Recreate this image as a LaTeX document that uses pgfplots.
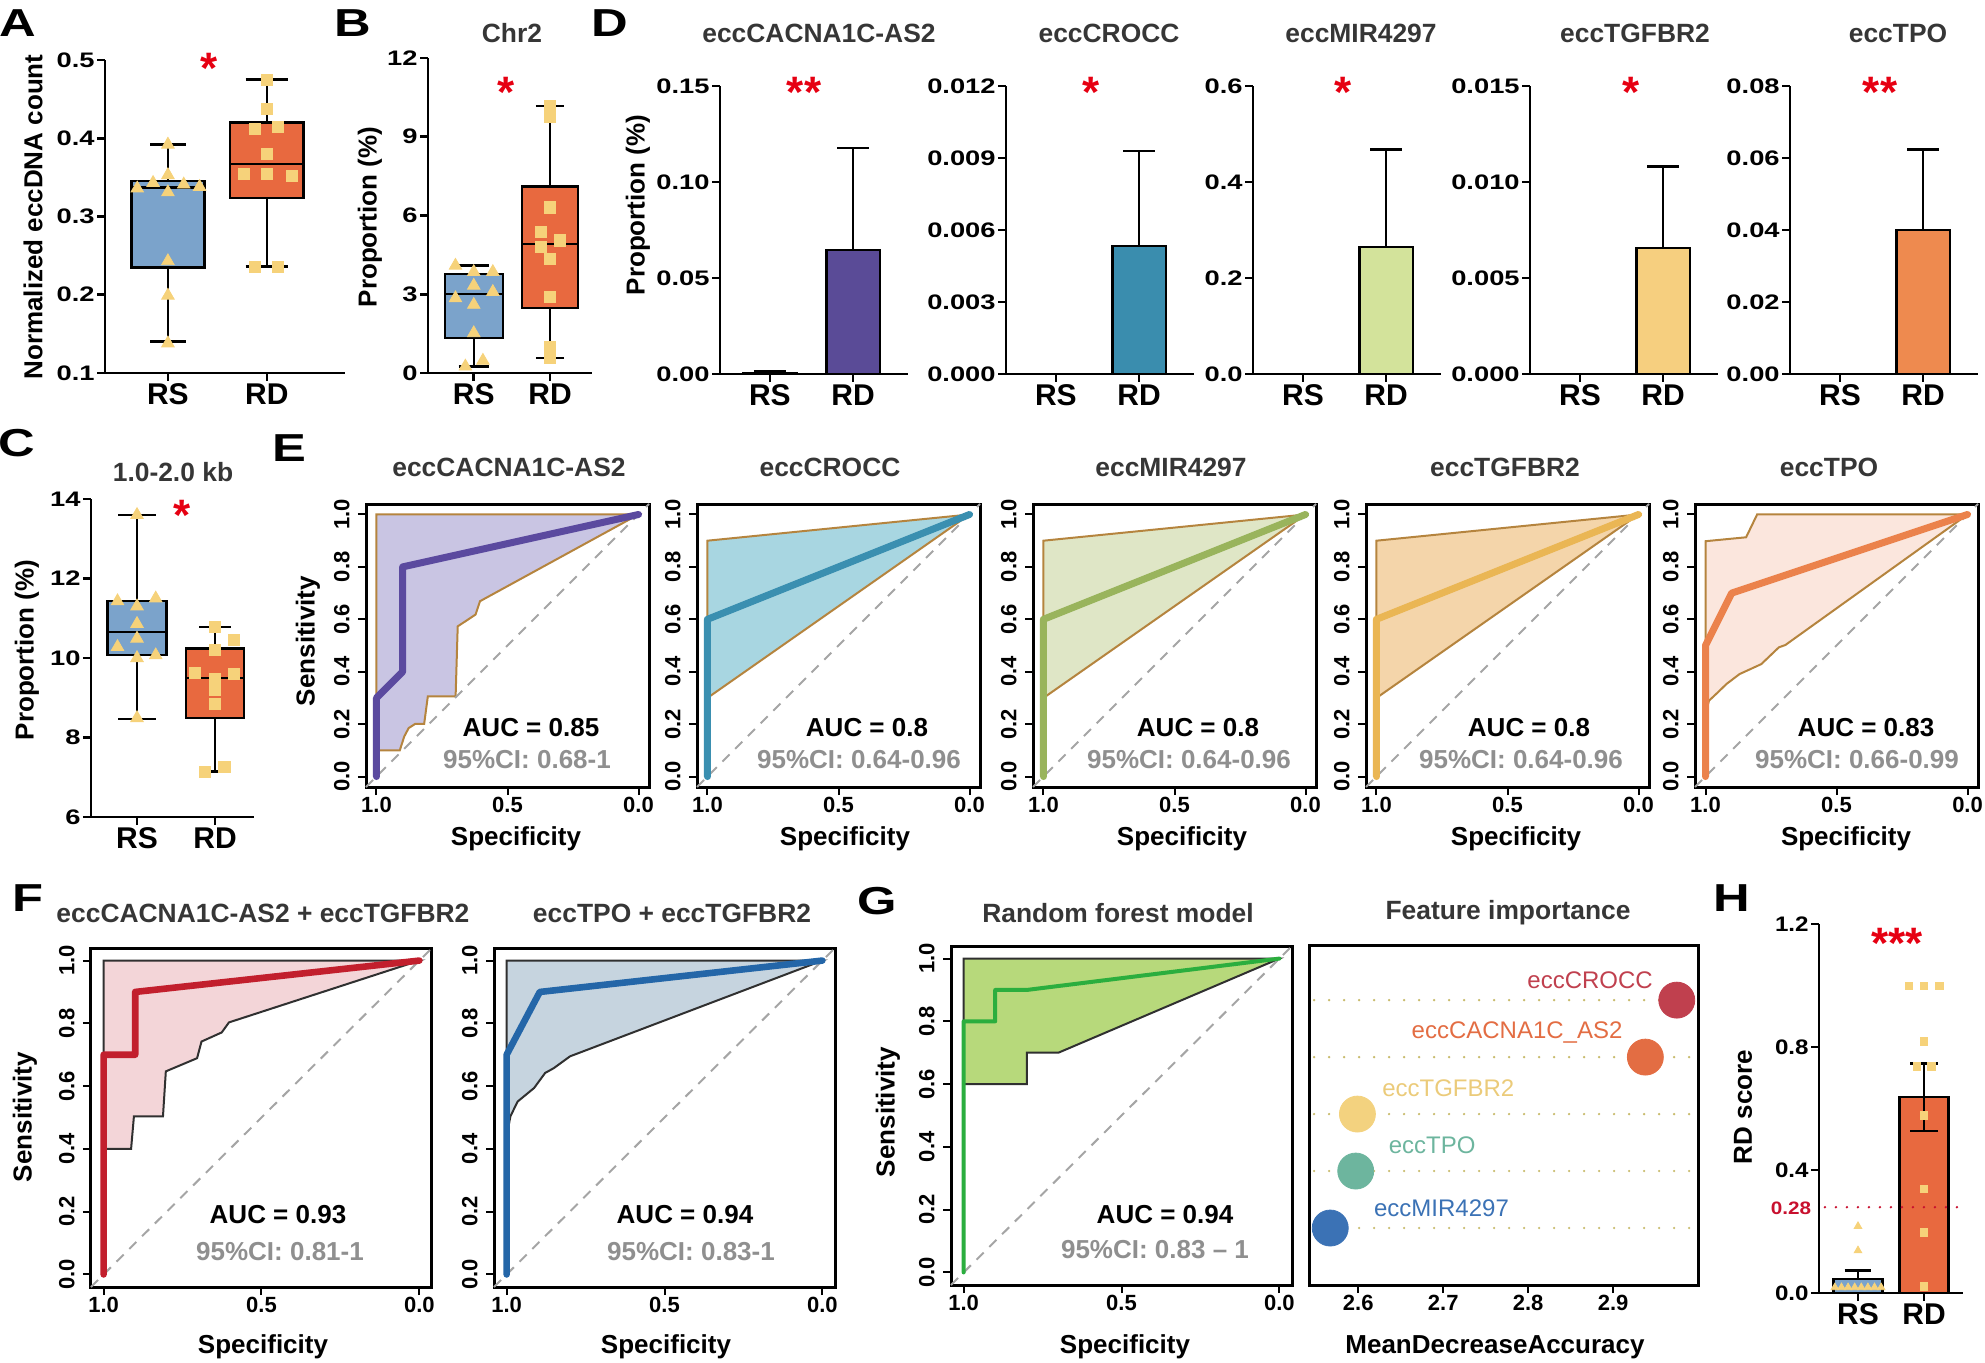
\documentclass[border=0pt]{standalone}
\usepackage{fontspec}
\setmainfont{Liberation Sans}
\newfontfamily\numfont{Liberation Sans}[FakeStretch=1.3]
\newfontfamily\numfontb{Liberation Sans}[FakeStretch=1.15]
\usepackage{pgfplots}
\pgfplotsset{compat=1.18}
\usepgfplotslibrary{statistics}

\definecolor{rsblue}{HTML}{7BA3CB}
\definecolor{rdorange}{HTML}{E8693F}
\definecolor{ptyel}{HTML}{F6D27A}
\definecolor{starred}{HTML}{E60012}
\definecolor{ttlgray}{HTML}{363636}
\definecolor{cigray}{HTML}{8F8F8F}
\definecolor{dA}{HTML}{5A4B97}
\definecolor{dB}{HTML}{3A8DAE}
\definecolor{dC}{HTML}{D3E39B}
\definecolor{dD}{HTML}{F6CF7F}
\definecolor{dE}{HTML}{EE8A4F}
\definecolor{eA}{HTML}{5B4A9F}
\definecolor{eB}{HTML}{3A8FB0}
\definecolor{eC}{HTML}{99B45C}
\definecolor{eD}{HTML}{EAB654}
\definecolor{eE}{HTML}{EB824C}
\definecolor{eAf}{HTML}{C9C5E3}
\definecolor{eBf}{HTML}{A8D6E1}
\definecolor{eCf}{HTML}{DFE6C6}
\definecolor{eDf}{HTML}{F4D5AA}
\definecolor{eEf}{HTML}{FBE6DD}
\definecolor{bandbrown}{HTML}{B5843E}
\definecolor{fA}{HTML}{C21F2D}
\definecolor{fAf}{HTML}{F3D5D8}
\definecolor{fB}{HTML}{2466A8}
\definecolor{fBf}{HTML}{C6D4DF}
\definecolor{darkout}{HTML}{303030}
\definecolor{gG}{HTML}{2BAE3E}
\definecolor{gGf}{HTML}{B7D97B}
\definecolor{cCROCC}{HTML}{C0404E}
\definecolor{cCAC}{HTML}{E36D43}
\definecolor{cTGF}{HTML}{F3D27F}
\definecolor{cTGFt}{HTML}{EBCB7A}
\definecolor{cTPO}{HTML}{6DB59E}
\definecolor{cMIR}{HTML}{3B72B5}
\definecolor{dotol}{HTML}{C9BC6E}
\definecolor{thr}{HTML}{C8102E}
\definecolor{diaggray}{HTML}{A5A5A5}

\newcommand\fsz[1]{\fontsize{#1}{#1}\selectfont}

\pgfplotsset{
 gp/.style={
  scale only axis, clip=false,
  axis lines*=left,
  axis line style={line width=1.3pt},
  tick style={black, line width=1.3pt},
  tick align=outside, major tick length=4pt,
  scaled y ticks=false,
  xtick={1,2}, xticklabels={RS,RD},
  xticklabel style={font=\fsz{15}\bfseries, inner sep=1pt},
  yticklabel style={font=\numfont\fsz{10.5}\bfseries, inner sep=1pt},
 },
 gpbox/.style={draw=black, line width=1.2pt},
 pts/.style={only marks, mark=triangle*, mark size=3.6pt, color=ptyel, mark options={fill=ptyel, draw=none}},
 ptsq/.style={only marks, mark=square*, mark size=2.8pt, color=ptyel, mark options={fill=ptyel, draw=none}},
 gpbar/.style={ybar, bar shift=0pt, draw=black, line width=1.2pt,
   error bars/y dir=plus, error bars/y explicit,
   error bars/error bar style={line width=1.3pt, black},
   error bars/error mark options={rotate=90, mark size=8pt, line width=1.3pt, black}},
 roc/.style={
  scale only axis, clip=false,
  width=141.5pt, height=141.5pt,
  xmin=-0.04, xmax=1.04, ymin=-0.04, ymax=1.04, x dir=reverse,
  axis line style={line width=1.5pt},
  tick style={black, line width=1pt},
  tick align=outside, tick pos=left, major tick length=4pt,
  xtick={0,0.5,1}, xticklabels={0.0,0.5,1.0},
  ytick={0,0.2,0.4,0.6,0.8,1}, yticklabels={0.0,0.2,0.4,0.6,0.8,1.0},
  xticklabel style={font=\fsz{11}\bfseries, inner sep=1pt},
  yticklabel style={font=\fsz{11}\bfseries, rotate=90, anchor=south, inner sep=4pt},
 },
 diag/.style={color=diaggray, line width=1pt, dash pattern=on 5pt off 4pt},
 band/.style={line width=1pt},
}

\begin{document}
\begin{tikzpicture}
\path[use as bounding box] (0pt,0pt) rectangle (992.5pt,-681.5pt);

% ---------- A ----------
\begin{axis}[gp, at={(52.5pt,-186.5pt)}, anchor=south west, width=120pt, height=156.5pt,
  xmin=0.364, xmax=2.79, ymin=0.1, ymax=0.5,
  ytick={0.1,0.2,0.3,0.4,0.5}, yticklabels={0.1,0.2,0.3,0.4,0.5}]
\addplot[gpbox, fill=rsblue, boxplot prepared={draw direction=y, draw position=1, lower whisker=0.140, lower quartile=0.235, median=0.337, upper quartile=0.345, upper whisker=0.392, box extend=0.74, whisker extend=0.36}] coordinates {};
\addplot[gpbox, fill=rdorange, boxplot prepared={draw direction=y, draw position=2, lower whisker=0.236, lower quartile=0.324, median=0.367, upper quartile=0.420, upper whisker=0.475, box extend=0.74, whisker extend=0.43}] coordinates {};
\addplot[pts] coordinates {(1,0.392) (1,0.353) (0.85,0.343) (0.69,0.336) (1.16,0.341) (1.32,0.338) (1,0.331) (1,0.243) (1,0.199) (1,0.138)};
\addplot[ptsq] coordinates {(2,0.475) (2,0.438) (1.88,0.412) (2.11,0.415) (2,0.38) (1.77,0.354) (2,0.354) (2.25,0.352) (1.88,0.236) (2.11,0.236)};
\end{axis}

% ---------- B ----------
\begin{axis}[gp, at={(214pt,-186.5pt)}, anchor=south west, width=82pt, height=157.5pt,
  xmin=0.40, xmax=2.55, ymin=0, ymax=12,
  ytick={0,3,6,9,12}, yticklabels={0,3,6,9,12}]
\addplot[gpbox, fill=rsblue, boxplot prepared={draw direction=y, draw position=1, lower whisker=0.25, lower quartile=1.33, median=3.0, upper quartile=3.78, upper whisker=4.09, box extend=0.76, whisker extend=0.40}] coordinates {};
\addplot[gpbox, fill=rdorange, boxplot prepared={draw direction=y, draw position=2, lower whisker=0.57, lower quartile=2.48, median=4.91, upper quartile=7.11, upper whisker=10.18, box extend=0.74, whisker extend=0.37}] coordinates {};
\addplot[pts] coordinates {(0.76,4.09) (1,3.85) (1.25,3.85) (1,3.33) (1.25,3.09) (0.76,2.85) (1,2.6) (1,1.52) (1.12,0.47) (0.89,0.25)};
\addplot[ptsq] coordinates {(2,10.18) (2,9.75) (2,6.31) (1.88,5.36) (2.13,5.05) (1.88,4.8) (2,4.34) (2,2.9) (2,0.99) (2,0.57)};
\end{axis}

% ---------- D ----------
\begin{axis}[gp, at={(360pt,-187pt)}, anchor=south west, width=94pt, height=144pt,
  xmin=0.4, xmax=2.66, ymin=0, ymax=0.15,
  ytick={0,0.05,0.1,0.15}, yticklabels={0.00,0.05,0.10,0.15}]
\addplot[gpbar, bar width=0.64, fill=dA] coordinates {(1,0.0006) +- (0,0.0006) (2,0.0647) +- (0,0.0531)};
\end{axis}
\begin{axis}[gp, at={(503pt,-187pt)}, anchor=south west, width=94pt, height=144pt,
  xmin=0.4, xmax=2.66, ymin=0, ymax=0.012,
  ytick={0,0.003,0.006,0.009,0.012}, yticklabels={0.000,0.003,0.006,0.009,0.012}]
\addplot[gpbar, bar width=0.64, fill=dB] coordinates {(2,0.00533) +- (0,0.00396)};
\end{axis}
\begin{axis}[gp, at={(626.5pt,-187pt)}, anchor=south west, width=94pt, height=144pt,
  xmin=0.4, xmax=2.66, ymin=0, ymax=0.6,
  ytick={0,0.2,0.4,0.6}, yticklabels={0.0,0.2,0.4,0.6}]
\addplot[gpbar, bar width=0.64, fill=dC] coordinates {(2,0.265) +- (0,0.203)};
\end{axis}
\begin{axis}[gp, at={(765pt,-187pt)}, anchor=south west, width=94pt, height=144pt,
  xmin=0.4, xmax=2.66, ymin=0, ymax=0.015,
  ytick={0,0.005,0.01,0.015}, yticklabels={0.000,0.005,0.010,0.015}]
\addplot[gpbar, bar width=0.64, fill=dD] coordinates {(2,0.00657) +- (0,0.00423)};
\end{axis}
\begin{axis}[gp, at={(895pt,-187pt)}, anchor=south west, width=94pt, height=144pt,
  xmin=0.4, xmax=2.66, ymin=0, ymax=0.08,
  ytick={0,0.02,0.04,0.06,0.08}, yticklabels={0.00,0.02,0.04,0.06,0.08}]
\addplot[gpbar, bar width=0.64, fill=dE] coordinates {(2,0.03995) +- (0,0.02235)};
\end{axis}

% ---------- C ----------
\begin{axis}[gp, at={(45.5pt,-408.5pt)}, anchor=south west, width=81.5pt, height=159pt,
  xmin=0.41, xmax=2.50, ymin=6, ymax=14,
  ytick={6,8,10,12,14}, yticklabels={6,8,10,12,14}]
\addplot[gpbox, fill=rsblue, boxplot prepared={draw direction=y, draw position=1, lower whisker=8.47, lower quartile=10.08, median=10.66, upper quartile=11.43, upper whisker=13.6, box extend=0.76, whisker extend=0.48}] coordinates {};
\addplot[gpbox, fill=rdorange, boxplot prepared={draw direction=y, draw position=2, lower whisker=7.14, lower quartile=8.49, median=9.5, upper quartile=10.24, upper whisker=10.78, box extend=0.74, whisker extend=0.41}] coordinates {};
\addplot[pts] coordinates {(1,13.6) (0.75,11.43) (1.24,11.5) (1,11.3) (1,10.86) (1,10.49) (0.75,10.28) (1.24,10.07) (1,10.0) (1,8.49)};
\addplot[ptsq] coordinates {(2,10.78) (2.24,10.45) (2,10.21) (1.74,9.63) (2.24,9.6) (2,9.48) (2,9.2) (2,8.85) (2.12,7.27) (1.87,7.14)};
\end{axis}

% ---------- E ----------
\begin{axis}[roc, at={(183pt,-393.5pt)}, anchor=south west]
\addplot[band, fill=eAf, draw=bandbrown] coordinates {(1,0.1) (1,1) (0,1) (0.605,0.669) (0.622,0.618) (0.690,0.573) (0.698,0.306) (0.804,0.306) (0.818,0.201) (0.852,0.201) (0.877,0.185) (0.894,0.153) (0.911,0.1) (1,0.1)};
\addplot[diag] coordinates {(1.04,-0.04) (-0.04,1.04)};
\addplot[color=eA, line width=3.5pt, line cap=round, line join=round] coordinates {(1,0) (1,0.3) (0.9,0.4) (0.9,0.8) (0,1)};
\end{axis}
\begin{axis}[roc, at={(348.5pt,-393.5pt)}, anchor=south west]
\addplot[band, fill=eBf, draw=bandbrown] coordinates {(1,0.3) (1,0.9) (0,1) (1,0.3)};
\addplot[diag] coordinates {(1.04,-0.04) (-0.04,1.04)};
\addplot[color=eB, line width=3.5pt, line cap=round, line join=round] coordinates {(1,0) (1,0.6) (0,1)};
\end{axis}
\begin{axis}[roc, at={(516.5pt,-393.5pt)}, anchor=south west]
\addplot[band, fill=eCf, draw=bandbrown] coordinates {(1,0.3) (1,0.9) (0,1) (1,0.3)};
\addplot[diag] coordinates {(1.04,-0.04) (-0.04,1.04)};
\addplot[color=eC, line width=3.5pt, line cap=round, line join=round] coordinates {(1,0) (1,0.6) (0,1)};
\end{axis}
\begin{axis}[roc, at={(683pt,-393.5pt)}, anchor=south west]
\addplot[band, fill=eDf, draw=bandbrown] coordinates {(1,0.3) (1,0.9) (0,1) (1,0.3)};
\addplot[diag] coordinates {(1.04,-0.04) (-0.04,1.04)};
\addplot[color=eD, line width=3.5pt, line cap=round, line join=round] coordinates {(1,0) (1,0.6) (0,1)};
\end{axis}
\begin{axis}[roc, at={(847.5pt,-393.5pt)}, anchor=south west]
\addplot[band, fill=eEf, draw=bandbrown] coordinates {(1,0.238) (1,0.898) (0.845,0.913) (0.803,1) (0,1) (0.695,0.502) (0.72,0.493) (0.787,0.429) (0.87,0.391) (0.92,0.353) (0.953,0.321) (0.987,0.289) (1,0.238)};
\addplot[diag] coordinates {(1.04,-0.04) (-0.04,1.04)};
\addplot[color=eE, line width=3.5pt, line cap=round, line join=round] coordinates {(1,0) (1,0.5) (0.9,0.7) (0,1)};
\end{axis}

% ---------- F ----------
\begin{axis}[roc, at={(45.5pt,-643.5pt)}, anchor=south west, width=170.5pt, height=169.5pt]
\addplot[band, fill=fAf, draw=darkout] coordinates {(1,0.4) (1,1) (0,1) (0.603,0.803) (0.626,0.771) (0.690,0.742) (0.704,0.689) (0.803,0.647) (0.812,0.504) (0.904,0.504) (0.913,0.4) (1,0.4)};
\addplot[diag] coordinates {(1.04,-0.04) (-0.04,1.04)};
\addplot[color=fA, line width=3.3pt, line cap=round, line join=round] coordinates {(1,0) (1,0.7) (0.9,0.7) (0.9,0.9) (0,1)};
\end{axis}
\begin{axis}[roc, at={(247pt,-643.5pt)}, anchor=south west, width=170.5pt, height=169.5pt]
\addplot[band, fill=fBf, draw=darkout] coordinates {(1,0.44) (1,1) (0,1) (0.799,0.695) (0.851,0.657) (0.878,0.642) (0.913,0.594) (0.965,0.551) (0.988,0.504) (1,0.44)};
\addplot[diag] coordinates {(1.04,-0.04) (-0.04,1.04)};
\addplot[color=fB, line width=3.3pt, line cap=round, line join=round] coordinates {(1,0) (1,0.7) (0.895,0.9) (0,1)};
\end{axis}

% ---------- G ----------
\begin{axis}[roc, at={(475.5pt,-642.5pt)}, anchor=south west, width=170.5pt, height=169.5pt]
\addplot[band, fill=gGf, draw=darkout] coordinates {(1,0.6) (1,1) (0,1) (0.7,0.7) (0.8,0.7) (0.8,0.6) (1,0.6)};
\addplot[diag] coordinates {(1.04,-0.04) (-0.04,1.04)};
\addplot[color=gG, line width=2pt, line cap=round, line join=round] coordinates {(1,0) (1,0.8) (0.9,0.8) (0.9,0.9) (0.8,0.9) (0,1)};
\end{axis}
\begin{axis}[scale only axis, clip=false, at={(654.5pt,-642.5pt)}, anchor=south west, width=194.5pt, height=169.5pt,
  xmin=2.542, xmax=3.0, ymin=0, ymax=5.95,
  axis line style={line width=1.5pt}, tick style={black, line width=1pt}, tick align=outside, major tick length=4pt,
  tick pos=left, xtick={2.6,2.7,2.8,2.9}, xticklabels={2.6,2.7,2.8,2.9}, ytick=\empty,
  xticklabel style={font=\fsz{11}\bfseries, inner sep=1pt}]
\addplot[color=dotol, line width=1.3pt, line cap=round, dash pattern=on 0pt off 7.5pt] coordinates {(2.548,5) (3.0,5)};
\addplot[color=dotol, line width=1.3pt, line cap=round, dash pattern=on 0pt off 7.5pt] coordinates {(2.548,4) (3.0,4)};
\addplot[color=dotol, line width=1.3pt, line cap=round, dash pattern=on 0pt off 7.5pt] coordinates {(2.548,3) (3.0,3)};
\addplot[color=dotol, line width=1.3pt, line cap=round, dash pattern=on 0pt off 7.5pt] coordinates {(2.548,2) (3.0,2)};
\addplot[color=dotol, line width=1.3pt, line cap=round, dash pattern=on 0pt off 7.5pt] coordinates {(2.548,1) (3.0,1)};
\addplot[only marks, mark=*, mark size=9pt, color=cCROCC] coordinates {(2.975,5)};
\addplot[only marks, mark=*, mark size=9pt, color=cCAC] coordinates {(2.938,4)};
\addplot[only marks, mark=*, mark size=9pt, color=cTGF] coordinates {(2.599,3)};
\addplot[only marks, mark=*, mark size=9pt, color=cTPO] coordinates {(2.597,2)};
\addplot[only marks, mark=*, mark size=9pt, color=cMIR] coordinates {(2.567,1)};
\node[font=\fsz{12}, text=cCROCC, inner sep=0pt] at (axis cs:2.873,5.35) {eccCROCC};
\node[font=\fsz{12}, text=cCAC, inner sep=0pt] at (axis cs:2.787,4.44) {eccCACNA1C\_AS2};
\node[font=\fsz{12}, text=cTGFt, inner sep=0pt] at (axis cs:2.706,3.46) {eccTGFBR2};
\node[font=\fsz{12}, text=cTPO, inner sep=0pt] at (axis cs:2.687,2.46) {eccTPO};
\node[font=\fsz{12}, text=cMIR, inner sep=0pt] at (axis cs:2.698,1.35) {eccMIR4297};
\end{axis}

% ---------- H ----------
\begin{axis}[gp, at={(909.5pt,-646.5pt)}, anchor=south west, width=72pt, height=184.5pt,
  xmin=0.41, xmax=2.59, ymin=0, ymax=1.2,
  ytick={0,0.4,0.8,1.2}, yticklabels={0.0,0.4,0.8,1.2},
  yticklabel style={font=\numfontb\fsz{10.5}\bfseries, inner sep=1pt}]
\addplot[ybar, bar shift=0pt, bar width=0.74, fill=rsblue, draw=black, line width=1.2pt,
   error bars/y dir=plus, error bars/y explicit, error bars/error bar style={line width=1.3pt, black},
   error bars/error mark options={rotate=90, mark size=6.7pt, line width=1.3pt, black}] coordinates {(1,0.046) +- (0,0.028)};
\addplot[ybar, bar shift=0pt, bar width=0.74, fill=rdorange, draw=black, line width=1.2pt,
   error bars/y dir=both, error bars/y explicit, error bars/error bar style={line width=1.3pt, black},
   error bars/error mark options={rotate=90, mark size=7pt, line width=1.3pt, black}] coordinates {(2,0.637) +- (0,0.11)};
\addplot[color=thr, line width=1.3pt, line cap=round, dash pattern=on 0pt off 5.5pt] coordinates {(0.5,0.279) (2.55,0.279)};
\addplot[only marks, mark=triangle*, mark size=2.2pt, color=ptyel, mark options={fill=ptyel, draw=none}] coordinates {(1,0.217) (1,0.138) (0.65,0.018) (0.75,0.018) (0.85,0.018) (0.95,0.018) (1.05,0.018) (1.15,0.018) (1.25,0.018) (1.35,0.018)};
\addplot[only marks, mark=square*, mark size=1.9pt, color=ptyel, mark options={fill=ptyel, draw=none}] coordinates {(1.77,0.999) (2,0.999) (2.23,0.999) (2,0.818) (1.89,0.737) (2.11,0.737) (2,0.578) (2,0.338) (2,0.198) (2,0.022)};
\end{axis}

% ---------- texts ----------
\begin{scope}[x=0.5pt,y=-0.5pt]
\tikzset{
  plab/.style={font=\numfont\fsz{19.5}\bfseries, inner sep=0pt},
  ttl/.style={font=\fsz{13.2}\bfseries, text=ttlgray, inner sep=0pt},
  star/.style={font=\fsz{22}\bfseries, text=starred, inner sep=0pt, anchor=north},
  ylab/.style={font=\fsz{13}\bfseries, rotate=90, inner sep=0pt},
  xlab/.style={font=\fsz{13}\bfseries, inner sep=0pt},
  auc/.style={font=\fsz{13}\bfseries, inner sep=0pt},
  ci/.style={font=\fsz{13}\bfseries, text=cigray, inner sep=0pt},
}
\node[plab] at (18,23) {A};
\node[plab] at (353,23) {B};
\node[plab] at (610,23) {D};
\node[plab] at (17,443) {C};
\node[plab] at (289,448) {E};
\node[plab] at (28,898) {F};
\node[plab] at (877,901) {G};
\node[plab] at (1732,898) {H};
\node[ttl] at (512,33) {Chr2};
\node[ttl] at (819,33) {eccCACNA1C-AS2};
\node[ttl] at (1109,33) {eccCROCC};
\node[ttl] at (1361,33) {eccMIR4297};
\node[ttl] at (1635,33) {eccTGFBR2};
\node[ttl] at (1898,33) {eccTPO};
\node[ttl] at (173,472) {1.0-2.0 kb};
\node[ttl] at (509,467) {eccCACNA1C-AS2};
\node[ttl] at (830,467) {eccCROCC};
\node[ttl] at (1171,467) {eccMIR4297};
\node[ttl] at (1505,467) {eccTGFBR2};
\node[ttl] at (1829,467) {eccTPO};
\node[ttl] at (263,913) {eccCACNA1C-AS2 + eccTGFBR2};
\node[ttl] at (672,913) {eccTPO + eccTGFBR2};
\node[ttl] at (1118,913) {Random forest model};
\node[ttl] at (1508,913) {Feature importance};
\node[star] at (209,53) {*};
\node[star] at (506,77) {*};
\node[star] at (182,500) {*};
\node[star] at (804,77) {**};
\node[star] at (1091,77) {*};
\node[star] at (1343,77) {*};
\node[star] at (1631,77) {*};
\node[star] at (1880,77) {**};
\node[star] at (1897,928) {***};
\node[ylab] at (33,217) {Normalized eccDNA count};
\node[ylab] at (370,217) {Proportion (\%)};
\node[ylab] at (638,205) {Proportion (\%)};
\node[ylab] at (27,650) {Proportion (\%)};
\node[ylab] at (308,641) {Sensitivity};
\node[ylab] at (25,1117) {Sensitivity};
\node[ylab] at (888,1112) {Sensitivity};
\node[ylab] at (1743,1107) {RD score};
\node[xlab] at (516,839) {Specificity};
\node[xlab] at (845,839) {Specificity};
\node[xlab] at (1182,839) {Specificity};
\node[xlab] at (1516,839) {Specificity};
\node[xlab] at (1846,839) {Specificity};
\node[xlab] at (263,1347) {Specificity};
\node[xlab] at (666,1347) {Specificity};
\node[xlab] at (1125,1347) {Specificity};
\node[xlab] at (1495,1347) {MeanDecreaseAccuracy};
\node[auc] at (531,728) {AUC = 0.85};
\node[ci] at (527,760) {95\%CI: 0.68-1};
\node[auc] at (867,728) {AUC = 0.8};
\node[ci] at (859,760) {95\%CI: 0.64-0.96};
\node[auc] at (1198,728) {AUC = 0.8};
\node[ci] at (1189,760) {95\%CI: 0.64-0.96};
\node[auc] at (1529,728) {AUC = 0.8};
\node[ci] at (1521,760) {95\%CI: 0.64-0.96};
\node[auc] at (1866,728) {AUC = 0.83};
\node[ci] at (1857,760) {95\%CI: 0.66-0.99};
\node[auc] at (278,1215) {AUC = 0.93};
\node[ci] at (280,1252) {95\%CI: 0.81-1};
\node[auc] at (685,1215) {AUC = 0.94};
\node[ci] at (691,1252) {95\%CI: 0.83-1};
\node[auc] at (1165,1215) {AUC = 0.94};
\node[ci] at (1155,1250) {95\%CI: 0.83 -- 1};
\node[font=\numfontb\fsz{9}\bfseries, text=thr, inner sep=0pt] at (1791,1208) {0.28};
\end{scope}
\end{tikzpicture}
\end{document}
